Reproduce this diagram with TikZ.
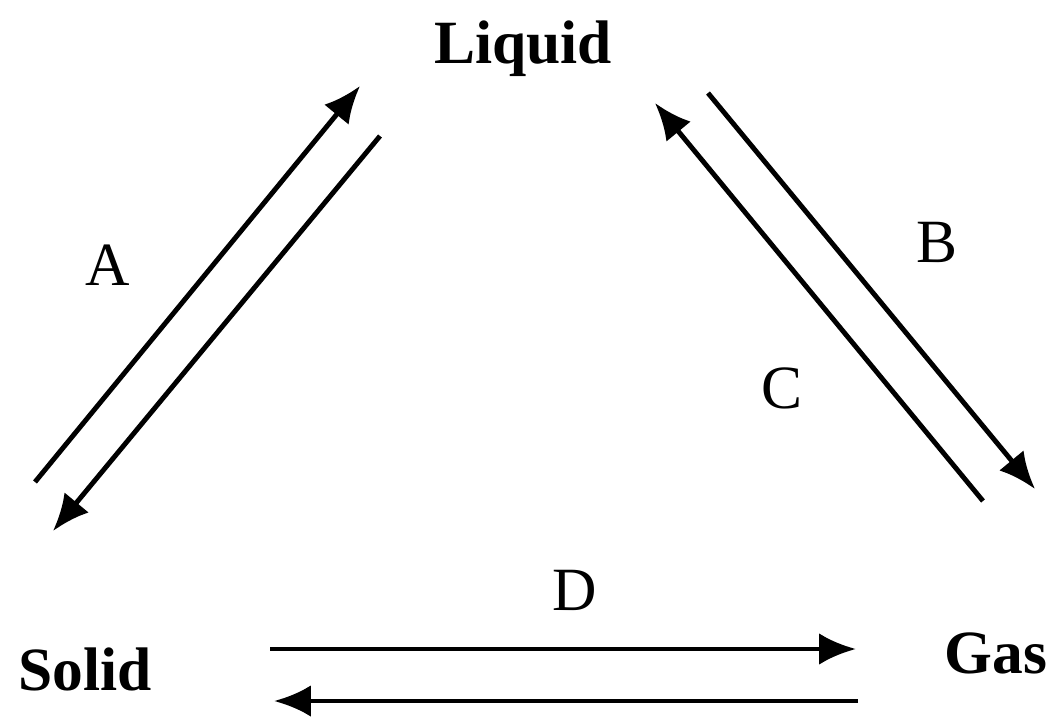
\documentclass[tikz,border=0pt]{standalone}
\usepackage{fontspec}
\setmainfont{Liberation Serif}
\usetikzlibrary{arrows.meta}
\begin{document}
\begin{tikzpicture}[x=0.02cm,y=-0.02cm,
  phase/.style={font=\fontsize{35}{40}\selectfont\bfseries, anchor=base, inner sep=0pt},
  lbl/.style={font=\fontsize{35}{40}\selectfont, anchor=base, inner sep=0pt},
  arr/.style={line width=2.8pt, -{Latex[length=21pt,width=18pt]}}]
\useasboundingbox (0,0) rectangle (1052,721);
\node[phase] (liquid) at (523,63) {Liquid};
\node[phase] (solid) at (85,690) {Solid};
\node[phase] (gas) at (996,673) {Gas};
\node[lbl] (A) at (108,285) {A};
\node[lbl] (B) at (937,262) {B};
\node[lbl] (C) at (782,408) {C};
\node[lbl] (D) at (575,610) {D};
\coordinate (a1s) at (35,482); \coordinate (a1e) at (360,86);
\coordinate (a2s) at (380,136); \coordinate (a2e) at (53,531);
\coordinate (bs) at (708,93); \coordinate (be) at (1035,489);
\coordinate (cs) at (983,501); \coordinate (ce) at (655,103);
\coordinate (d1s) at (270,649); \coordinate (d1e) at (856,649);
\coordinate (d2s) at (858,701); \coordinate (d2e) at (274,701);
\draw[arr] (a1s) -- (a1e);
\draw[arr] (a2s) -- (a2e);
\draw[arr] (bs) -- (be);
\draw[arr] (cs) -- (ce);
\draw[arr] (d1s) -- (d1e);
\draw[arr] (d2s) -- (d2e);
\end{tikzpicture}
\end{document}
